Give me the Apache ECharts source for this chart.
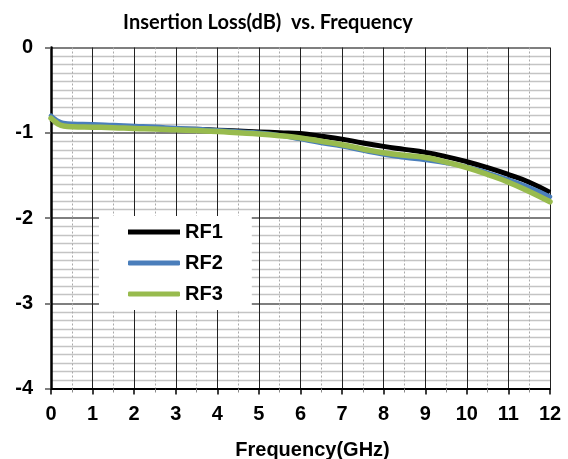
<!DOCTYPE html>
<html><head><meta charset="utf-8">
<script src="https://cdn.jsdelivr.net/npm/echarts@6/dist/echarts.min.js"></script>
<style>html,body{margin:0;padding:0;background:#fff}#c{width:568px;height:459px}</style>
</head><body><div id="c"></div>
<script>
const freq = [0,0.1,0.2,0.3,0.5,1,1.5,2,2.5,3,3.5,4,4.5,5,5.5,6,6.5,7,7.5,8,8.5,9,9.5,10,10.5,11,11.5,12];
const rf1 = [-0.84,-0.87,-0.895,-0.905,-0.915,-0.925,-0.93,-0.94,-0.945,-0.955,-0.96,-0.97,-0.98,-0.99,-1.0,-1.01,-1.04,-1.075,-1.12,-1.16,-1.195,-1.23,-1.28,-1.34,-1.41,-1.49,-1.58,-1.70];
const rf2 = [-0.80,-0.84,-0.87,-0.885,-0.895,-0.90,-0.91,-0.92,-0.93,-0.945,-0.955,-0.97,-0.985,-1.0,-1.03,-1.075,-1.12,-1.16,-1.21,-1.255,-1.29,-1.32,-1.355,-1.40,-1.47,-1.55,-1.64,-1.75];
const rf3 = [-0.83,-0.87,-0.905,-0.92,-0.93,-0.935,-0.94,-0.95,-0.955,-0.965,-0.975,-0.985,-1.0,-1.015,-1.035,-1.06,-1.10,-1.14,-1.19,-1.235,-1.265,-1.29,-1.345,-1.41,-1.49,-1.58,-1.69,-1.81];
const seriesNames = ['RF1','RF2','RF3'];
const titleText = 'Insertion Loss(dB)  vs. Frequency';
const xTitle = 'Frequency(GHz)';

const pair = (arr) => freq.map((f,i)=>[f,arr[i]]);
const chart = echarts.init(document.getElementById('c'), null, {renderer:'canvas'});
chart.setOption({
  animation:false,
  backgroundColor:'#fff',
  graphic:[{type:'text', style:{text:titleText, x:268, y:23, textAlign:'center', textVerticalAlign:'middle', font:'bold 20px Lato', fill:'#000'}}],
  grid:{left:51, right:18, top:47.5, bottom:70.5, containLabel:false, outerBoundsMode:'none'},
  legend:{
    orient:'vertical', left:99, top:216,
    backgroundColor:'#fff',
    padding:[6,29,6,29],
    itemGap:11,
    itemWidth:52, itemHeight:5,
    textStyle:{fontFamily:'Liberation Sans', fontWeight:'bold', fontSize:20, color:'#000', lineHeight:20},
    data:[{name:'RF1',icon:'rect'},{name:'RF2',icon:'roundRect'},{name:'RF3',icon:'roundRect'}]
  },
  xAxis:{
    type:'value', min:0, max:12, interval:1,
    name:xTitle, nameLocation:'middle', nameGap:52,
    nameTextStyle:{fontFamily:'Liberation Sans', fontWeight:'bold', fontSize:20, color:'#000', padding:[0,0,0,24]},
    axisLine:{show:true, onZero:false, lineStyle:{color:'#000', width:2}},
    axisTick:{show:true, length:6, lineStyle:{color:'#000', width:1.5}},
    minorTick:{show:true, splitNumber:2, length:4, lineStyle:{color:'#888', width:1}},
    axisLabel:{margin:16, fontFamily:'Liberation Sans', fontWeight:'bold', fontSize:20, color:'#000'},
    splitLine:{show:true, lineStyle:{color:'#222', width:1}},
    minorSplitLine:{show:true, lineStyle:{color:'#aaa', width:1, type:[2,2]}}
  },
  yAxis:{
    type:'value', min:-4, max:0, interval:1,
    axisLine:{show:true, onZero:false, lineStyle:{color:'#000', width:2.5}},
    axisTick:{show:true, length:6, lineStyle:{color:'#555', width:1.5}},
    minorTick:{show:false, splitNumber:10},
    axisLabel:{margin:18, fontFamily:'Liberation Sans', fontWeight:'bold', fontSize:20, color:'#000'},
    splitLine:{show:true, lineStyle:{color:'#555', width:1.5}},
    minorSplitLine:{show:true, lineStyle:{color:'#c4c4c4', width:1.3}}
  },
  series:[
    {name:seriesNames[0], type:'line', data:pair(rf1), smooth:true, symbol:'none', lineStyle:{color:'#000', width:5}, itemStyle:{color:'#000'}, z:3},
    {name:seriesNames[1], type:'line', data:pair(rf2), smooth:true, symbol:'none', lineStyle:{color:'#4a7ebb', width:4.5, cap:'round'}, itemStyle:{color:'#4a7ebb'}, z:4},
    {name:seriesNames[2], type:'line', data:pair(rf3), smooth:true, symbol:'none', lineStyle:{color:'#98bb4e', width:5.5, cap:'round'}, itemStyle:{color:'#98bb4e'}, z:5}
  ]
});
</script></body></html>
